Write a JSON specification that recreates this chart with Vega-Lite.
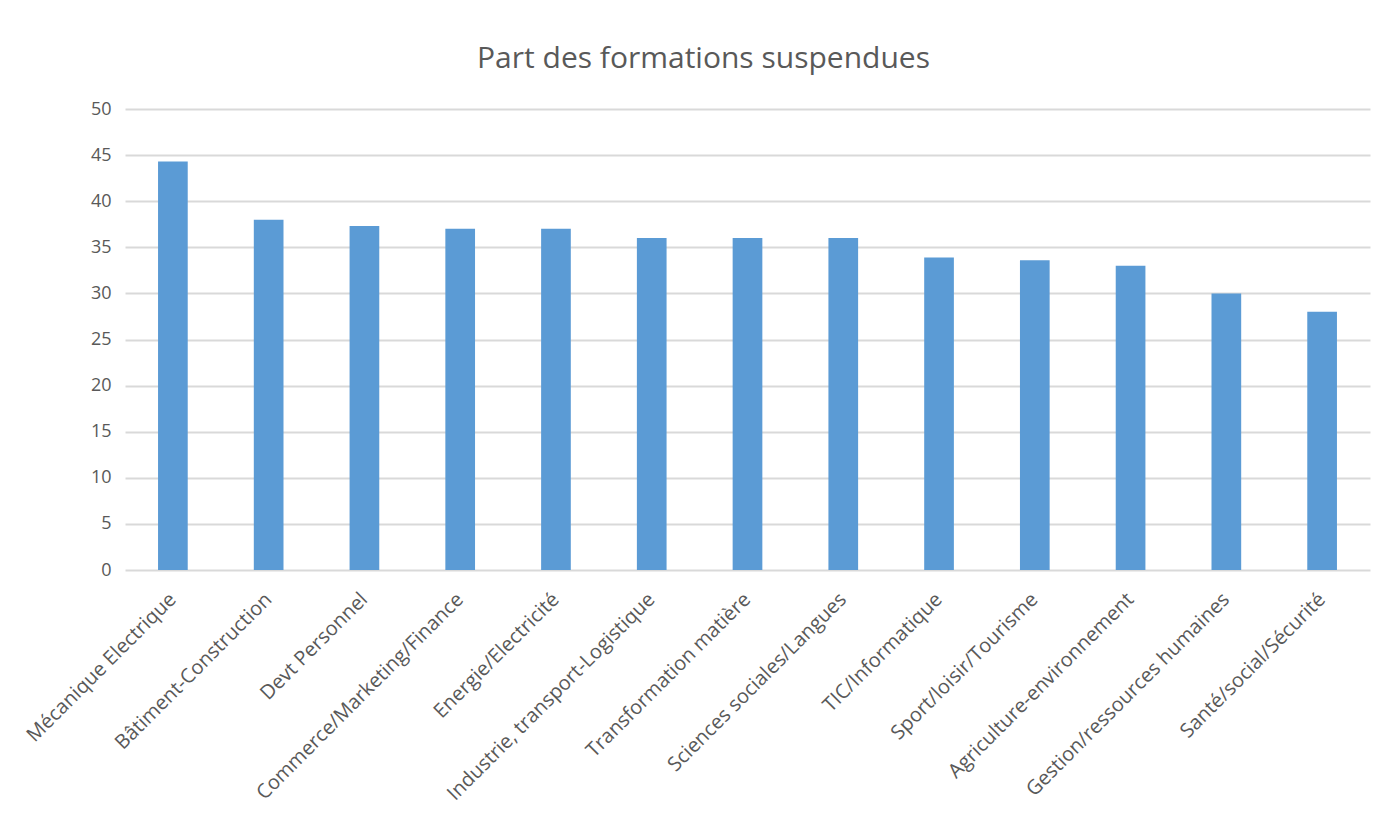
{
  "$schema": "https://vega.github.io/schema/vega-lite/v6.json",
  "autosize": "none",
  "width": 1245,
  "height": 461,
  "padding": {"left": 125, "top": 109, "right": 17, "bottom": 250},
  "background": "white",
  "title": {
    "text": "Part des formations suspendues",
    "font": "Open Sans",
    "fontSize": 30,
    "fontWeight": "normal",
    "color": "#595959",
    "anchor": "middle",
    "dx": -44,
    "offset": 26
  },
  "data": {
    "values": [
      {"filiere": "Mécanique Electrique", "part": 44.3},
      {"filiere": "Bâtiment-Construction", "part": 38},
      {"filiere": "Devt Personnel", "part": 37.3},
      {"filiere": "Commerce/Marketing/Finance", "part": 37},
      {"filiere": "Energie/Electricité", "part": 37},
      {"filiere": "Industrie, transport-Logistique", "part": 36},
      {"filiere": "Transformation matière", "part": 36},
      {"filiere": "Sciences sociales/Langues", "part": 36},
      {"filiere": "TIC/Informatique", "part": 33.9},
      {"filiere": "Sport/loisir/Tourisme", "part": 33.6},
      {"filiere": "Agriculture-environnement", "part": 33},
      {"filiere": "Gestion/ressources humaines", "part": 30},
      {"filiere": "Santé/social/Sécurité", "part": 28}
    ]
  },
  "mark": {"type": "bar", "color": "#5B9BD5"},
  "encoding": {
    "x": {
      "field": "filiere",
      "type": "nominal",
      "sort": null,
      "title": null,
      "scale": {"paddingInner": 0.69, "paddingOuter": 0.345},
      "axis": {
        "labelAngle": -45,
        "labelAlign": "right",
        "labelBaseline": "middle",
        "labelFont": "Open Sans",
        "labelFontSize": 20,
        "labelColor": "#595959",
        "labelPadding": 26,
        "labelLimit": 400,
        "ticks": false,
        "domain": false
      }
    },
    "y": {
      "field": "part",
      "type": "quantitative",
      "title": null,
      "scale": {"domain": [0, 50], "nice": false},
      "axis": {
        "values": [0, 5, 10, 15, 20, 25, 30, 35, 40, 45, 50],
        "labelFont": "Open Sans",
        "labelFontSize": 18,
        "labelColor": "#595959",
        "labelPadding": 14,
        "ticks": false,
        "domain": false,
        "gridColor": "#D9D9D9",
        "gridWidth": 2
      }
    }
  },
  "config": {"view": {"stroke": null}}
}
